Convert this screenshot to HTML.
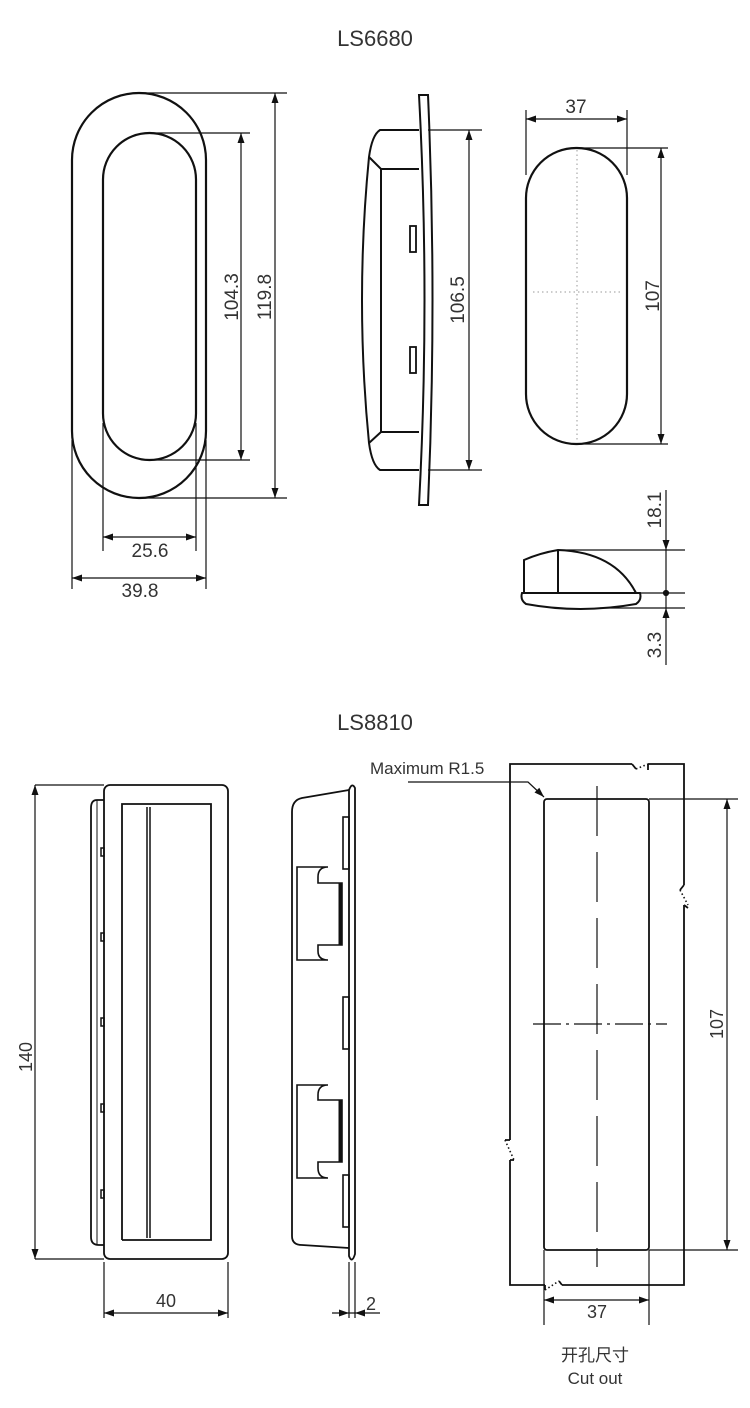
<!DOCTYPE html>
<html><head><meta charset="utf-8"><style>
html,body{margin:0;padding:0;background:#fff}
svg{display:block}
text{font-family:"Liberation Sans","Noto Sans CJK SC",sans-serif;fill:#333}
</style></head><body>
<svg width="750" height="1408" viewBox="0 0 750 1408" xmlns="http://www.w3.org/2000/svg">
<g fill="none" stroke="#111" stroke-width="1.2">
<!-- LS6680 front -->
<text x="375" y="46" font-size="22" text-anchor="middle" stroke="none" fill="#666">LS6680</text>
<rect x="72" y="93" width="134" height="405" rx="67" stroke-width="2.2"/>
<rect x="103" y="133" width="93" height="327" rx="46.5" stroke-width="2.2"/>
<path d="M139,93H287M149,133H250M149,460H250M139,498H287"/>
<path d="M241,133V460M275,93V498"/>
<path d="M103,423V551M196,423V551M72,440V589M206,440V589"/>
<path d="M103,537H196M72,578H206"/>
<g stroke="none" font-size="19">
<text transform="translate(238,297) rotate(-90)" text-anchor="middle">104.3</text>
<text transform="translate(271,297) rotate(-90)" text-anchor="middle">119.8</text>
<text x="150" y="557" text-anchor="middle">25.6</text>
<text x="140" y="597" text-anchor="middle">39.8</text>
</g>
<!-- LS6680 side -->
<path d="M419,95Q430,300 419,505H428Q437,300 428,95Z" stroke-width="2"/>
<path d="M419,130H380Q372,135 369,157Q355,300 369,443Q372,465 380,470H419" stroke-width="2"/>
<path d="M369,157L381,169H419M369,443L381,432H419M381,169V432" stroke-width="2"/>
<rect x="410" y="226" width="6" height="26" stroke-width="1.8"/>
<rect x="410" y="347" width="6" height="26" stroke-width="1.8"/>
<path d="M428,130H482M428,470H482M469,130V470"/>
<text transform="translate(464,300) rotate(-90)" text-anchor="middle" font-size="19" stroke="none">106.5</text>
<!-- LS6680 top right -->
<rect x="526" y="148" width="101" height="296" rx="50" stroke-width="2.2"/>
<path d="M577,150V442M533,292H620" stroke="#999" stroke-width="1" stroke-dasharray="1.5 3"/>
<path d="M526,110V175M627,110V175M577,148H668M577,444H668M526,119H627M661,148V444"/>
<text x="576" y="113" font-size="19" text-anchor="middle" stroke="none">37</text>
<text transform="translate(659,296) rotate(-90)" text-anchor="middle" font-size="19" stroke="none">107</text>
<!-- small side -->
<path d="M524,593V560Q540,553 558,550Q615,552 636,593Z" stroke-width="2"/>
<path d="M558,550V593" stroke-width="2"/>
<path d="M522,593H640Q642,600 636,604Q580,614 526,604Q520,600 522,593Z" stroke-width="2"/>
<path d="M558,550H685M640,593H685M600,608H685M666,490V665"/>
<circle cx="666" cy="593" r="2.5" fill="#111"/>
<text transform="translate(661,510) rotate(-90)" text-anchor="middle" font-size="19" stroke="none">18.1</text>
<text transform="translate(661,645) rotate(-90)" text-anchor="middle" font-size="19" stroke="none">3.3</text>
<!-- LS8810 -->
<text x="375" y="730" font-size="22" text-anchor="middle" stroke="none" fill="#666">LS8810</text>
<path d="M104,800H97Q91,800 91,808V1237Q91,1245 99,1245H104" stroke-width="1.8"/>
<path d="M97,800V1245" stroke-width="1"/>
<rect x="104" y="785" width="124" height="474" rx="6" stroke-width="1.8"/>
<path d="M122,1240V804H211V1240H122" stroke-width="1.8"/>
<path d="M147,807V1238M150,807V1238" stroke-width="1.5"/>
<g stroke-width="1.5"><rect x="101" y="848" width="3" height="8"/><rect x="101" y="933" width="3" height="8"/><rect x="101" y="1018" width="3" height="8"/><rect x="101" y="1104" width="3" height="8"/><rect x="101" y="1190" width="3" height="8"/></g>
<path d="M35,785H104M35,1259H104M35,785V1259"/>
<text transform="translate(32,1057) rotate(-90)" text-anchor="middle" font-size="18" stroke="none">140</text>
<path d="M104,1262V1318M228,1262V1318M104,1313H228"/>
<text x="166" y="1307" text-anchor="middle" font-size="18" stroke="none">40</text>
<!-- side view 8810 -->
<path d="M349,790Q352,782 355,788V1254Q352,1264 349,1256Z" stroke-width="1.8"/>
<path d="M349,790L302,798Q292,800 292,812V1236Q292,1245 302,1245L349,1248" stroke-width="1.8"/>
<g stroke-width="1.6">
<rect x="343" y="817" width="6" height="52"/><rect x="343" y="997" width="6" height="52"/><rect x="343" y="1175" width="6" height="52"/>
<path d="M297,867H328Q318,867 318,877V883H342V945H318V951Q318,960 328,960H297Z"/>
<path d="M340,883V945" stroke-width="3"/>
<path d="M297,1085H328Q318,1085 318,1095V1100H342V1162H318V1168Q318,1178 328,1178H297Z"/>
<path d="M340,1100V1162" stroke-width="3"/>
</g>
<path d="M349,1262V1318M355,1262V1318M332,1313H380"/>
<text x="366" y="1310" font-size="18" stroke="none">2</text>
<!-- cutout -->
<text x="370" y="774" font-size="17" stroke="none">Maximum R1.5</text>
<path d="M408,782H528L544,797"/>
<path d="M510,1140V764H632M648,764H684V885M684,905V1285H562M545,1285H510V1160" stroke-width="1.8"/>
<path d="M632,764L636,769M648,764V770M684,885L680,890M684,905L688,908M545,1285V1290M562,1285L559,1281M510,1140H505M510,1160H514" stroke-width="1.8"/>
<path d="M636,769L648,764M680,890L688,905M545,1290L559,1281M505,1140L514,1160" stroke-dasharray="1.5 2.5" stroke-width="1.6"/>
<rect x="544" y="799" width="105" height="451" rx="3" stroke-width="1.8"/>
<path d="M649,799H738M649,1250H738M727,799V1250"/>
<text transform="translate(723,1024) rotate(-90)" text-anchor="middle" font-size="18" stroke="none">107</text>
<path d="M597,786V1267" stroke-dasharray="50 16"/>
<path d="M533,1024H667" stroke-dasharray="28 5 3 5"/>
<path d="M544,1250V1325M649,1250V1325M544,1300H649"/>
<text x="597" y="1318" text-anchor="middle" font-size="18" stroke="none">37</text>
<text x="595" y="1361" text-anchor="middle" font-size="17" stroke="none">开孔尺寸</text>
<text x="595" y="1384" text-anchor="middle" font-size="17" stroke="none">Cut out</text>
</g>
<!-- arrowheads -->
<g fill="#111" stroke="none">
<path d="M241,133l-3.5,10h7zM241,460l-3.5,-10h7z"/>
<path d="M275,93l-3.5,10h7zM275,498l-3.5,-10h7z"/>
<path d="M469,130l-3.5,10h7zM469,470l-3.5,-10h7z"/>
<path d="M661,148l-3.5,10h7zM661,444l-3.5,-10h7z"/>
<path d="M35,785l-3.5,10h7zM35,1259l-3.5,-10h7z"/>
<path d="M727,799l-3.5,10h7zM727,1250l-3.5,-10h7z"/>
<path d="M103,537l10,-3.5v7zM196,537l-10,-3.5v7z"/>
<path d="M72,578l10,-3.5v7zM206,578l-10,-3.5v7z"/>
<path d="M526,119l10,-3.5v7zM627,119l-10,-3.5v7z"/>
<path d="M104,1313l10,-3.5v7zM228,1313l-10,-3.5v7z"/>
<path d="M544,1300l10,-3.5v7zM649,1300l-10,-3.5v7z"/>
<path d="M666,550l-3.5,-10h7zM666,608l-3.5,10h7z"/>
<path d="M349,1313l-10,-3.5v7zM355,1313l10,-3.5v7z"/>
<path d="M544,797l-9.5,-4.5l4.8,-4.8z"/>
</g>
</svg>
</body></html>
